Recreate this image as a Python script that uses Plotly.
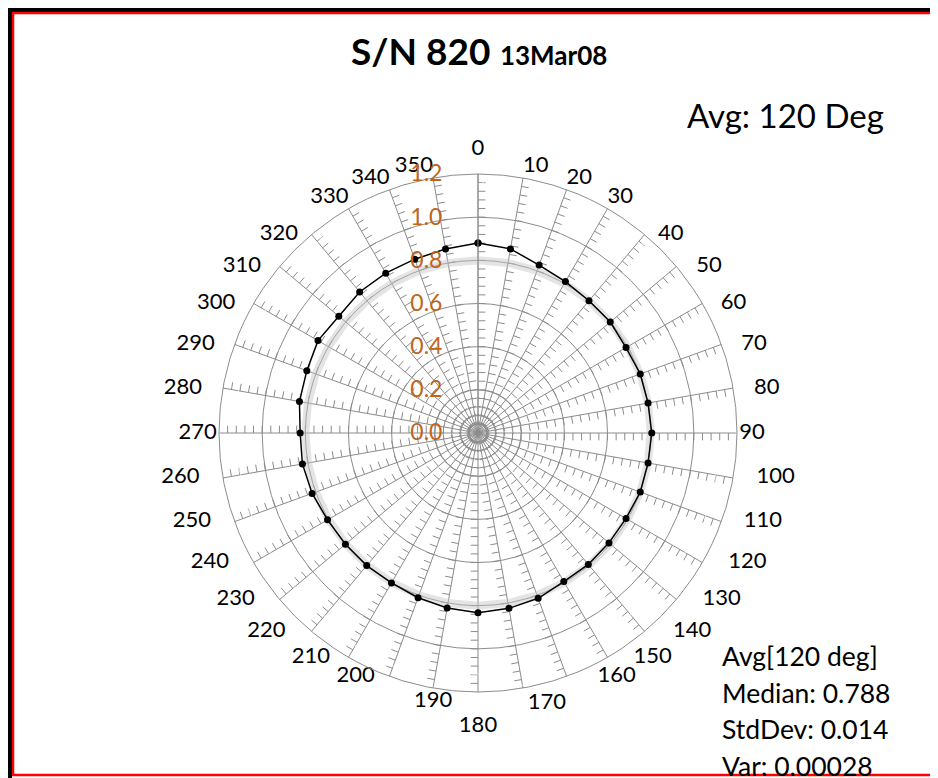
import math
import plotly.graph_objects as go

# ---- data ----
angles = [0, 10, 20, 30, 40, 50, 60, 70, 80, 90, 100, 110, 120, 130, 140, 150, 160, 170,
          180, 190, 200, 210, 220, 230, 240, 250, 260, 270, 280, 290, 300, 310, 320, 330, 340, 350]
values = [0.880, 0.866, 0.828, 0.810, 0.800, 0.800, 0.792, 0.800, 0.800, 0.805, 0.800, 0.800,
          0.792, 0.792, 0.795, 0.795, 0.815, 0.825, 0.833, 0.823, 0.812, 0.802, 0.802, 0.802,
          0.805, 0.818, 0.826, 0.824, 0.840, 0.844, 0.856, 0.842, 0.853, 0.855, 0.857, 0.866]
band_values = [0.80, 0.80, 0.80, 0.80, 0.80, 0.80, 0.80, 0.80, 0.80, 0.80, 0.80, 0.80,
               0.80, 0.80, 0.80, 0.80, 0.80, 0.80, 0.80, 0.80, 0.80, 0.80, 0.80, 0.80,
               0.80, 0.80, 0.80, 0.80, 0.80, 0.80, 0.80, 0.80, 0.80, 0.80, 0.80, 0.80]
radial_ticks = [0.0, 0.2, 0.4, 0.6, 0.8, 1.0, 1.2]
radial_labels = ["0.0", "0.2", "0.4", "0.6", "0.8", "1.0", "1.2"]
angle_labels = [str(a) for a in angles]

title_main = "S/N 820"
title_date = "13Mar08"
avg_text = "Avg: 120 Deg"
stats_lines = ["Avg[120 deg]", "Median: 0.788", "StdDev: 0.014", "Var: 0.00028"]

# page has an 8px body margin, so figure is offset by 8px
OFF = 8
W, H = 930, 770
cx, cy, R = 478, 433, 259   # reference-page pixel coordinates
RMAX = 1.2
FONT = "Lato"
GRID = "#8c8c8c"


def fx(x):
    return (x - OFF) / W


def fy(y):
    return 1 - (y - OFF) / H


fig = go.Figure()

# minor tick marks on every spoke (decoration of the value axis)
minor_step = 0.04
tick_len = 0.034
tr, tt = [], []
n_minor = int(round(RMAX / minor_step))
for a in angles:
    for k in range(1, n_minor):
        r = k * minor_step
        r2 = math.hypot(r, tick_len)
        a2 = a + math.degrees(math.atan2(tick_len, r))
        tr += [r, r2, None]
        tt += [a, a2, None]
fig.add_trace(go.Scatterpolar(r=tr, theta=tt, mode="lines",
                              line=dict(color=GRID, width=1),
                              hoverinfo="skip", showlegend=False))

# pale band
fig.add_trace(go.Scatterpolar(r=band_values + band_values[:1], theta=angles + [360],
                              mode="lines",
                              line=dict(color="rgba(195,195,195,0.45)", width=8),
                              hoverinfo="skip", showlegend=False))

# data series
fig.add_trace(go.Scatterpolar(r=values + values[:1], theta=angles + [360],
                              mode="lines+markers",
                              line=dict(color="black", width=1.5),
                              marker=dict(color="black", size=7),
                              showlegend=False))

# category labels placed Excel-style around the outer ring
# (an invisible marker of varying size sets the text gap from the ring)
label_place = {
    0: ("top center", 10),
    10: ("top right", 0), 20: ("top right", 0), 30: ("top right", 0),
    40: ("middle right", 10), 50: ("middle right", 15), 60: ("middle right", 14),
    70: ("middle right", 15), 80: ("middle right", 16), 90: ("middle right", 1),
    100: ("middle right", 18), 110: ("middle right", 17), 120: ("middle right", 20),
    130: ("middle right", 20), 140: ("middle right", 22), 150: ("middle right", 20),
    160: ("middle right", 24), 170: ("bottom right", 3), 180: ("bottom center", 18),
    190: ("bottom center", 1), 200: ("middle left", 11), 210: ("middle left", 14),
    220: ("middle left", 20), 230: ("middle left", 19), 240: ("middle left", 19),
    250: ("middle left", 18), 260: ("middle left", 18), 270: ("middle left", 1),
    280: ("middle left", 16), 290: ("middle left", 15), 300: ("middle left", 14),
    310: ("middle left", 14), 320: ("middle left", 10),
    330: ("top left", 0), 340: ("top left", 0), 350: ("top left", 0),
}
lab_pos = [label_place[a][0] for a in angles]
lab_size = [2 * label_place[a][1] for a in angles]
fig.add_trace(go.Scatterpolar(r=[RMAX] * len(angles), theta=angles, mode="markers+text",
                              text=angle_labels, textposition=lab_pos, cliponaxis=False,
                              marker=dict(size=lab_size, color="rgba(0,0,0,0)"),
                              textfont=dict(family=FONT, size=22, color="black"),
                              hoverinfo="skip", showlegend=False))

fig.update_layout(
    width=W, height=H,
    margin=dict(l=0, r=0, t=0, b=0),
    paper_bgcolor="white",
    font=dict(family=FONT, color="black"),
    polar=dict(
        domain=dict(x=[fx(cx - R), fx(cx + R)], y=[fy(cy + R), fy(cy - R)]),
        bgcolor="white",
        angularaxis=dict(
            type="linear", rotation=90, direction="clockwise",
            tickmode="array", tickvals=angles, ticktext=angle_labels,
            showticklabels=False,
            showgrid=True, gridcolor=GRID, gridwidth=1,
            showline=True, linecolor=GRID, linewidth=1,
            ticks="",
        ),
        radialaxis=dict(
            range=[0, RMAX], angle=90, side="counterclockwise",
            tickmode="array", tickvals=radial_ticks, ticktext=radial_labels,
            showgrid=True, gridcolor=GRID, gridwidth=1,
            showline=True, linecolor=GRID, linewidth=1,
            ticks="outside", ticklen=27, tickcolor="rgba(0,0,0,0)",
            tickangle=90,
            tickfont=dict(family=FONT, size=23, color="#C0651A"),
        ),
    ),
)

ann = []
ann.append(dict(x=fx(479), y=fy(50), xref="paper", yref="paper", showarrow=False,
                xanchor="center", yanchor="middle",
                text=f"<b>{title_main}</b> <b><span style='font-size:26px'>{title_date}</span></b>",
                font=dict(family=FONT, size=37, color="black")))
ann.append(dict(x=fx(886), y=fy(115), xref="paper", yref="paper", showarrow=False,
                xanchor="right", yanchor="middle", text=avg_text,
                font=dict(family=FONT, size=33, color="black")))
for i, line in enumerate(stats_lines):
    ann.append(dict(x=fx(720), y=fy(656 + 36.5 * i), xref="paper", yref="paper", showarrow=False,
                    xanchor="left", yanchor="middle", text=line,
                    font=dict(family=FONT, size=26.5, color="black")))
fig.update_layout(annotations=ann)

shapes = [
    dict(type="line", xref="paper", yref="paper", x0=fx(9.5), x1=fx(9.5), y0=fy(7), y1=0,
         line=dict(color="black", width=5)),
    dict(type="line", xref="paper", yref="paper", x0=fx(7), x1=1, y0=fy(9.5), y1=fy(9.5),
         line=dict(color="black", width=5)),
    dict(type="rect", xref="paper", yref="paper", x0=fx(13), x1=fx(935), y0=fy(13), y1=fy(775),
         line=dict(color="red", width=2.5)),
]
fig.update_layout(shapes=shapes)

fig.write_html("out.html")
